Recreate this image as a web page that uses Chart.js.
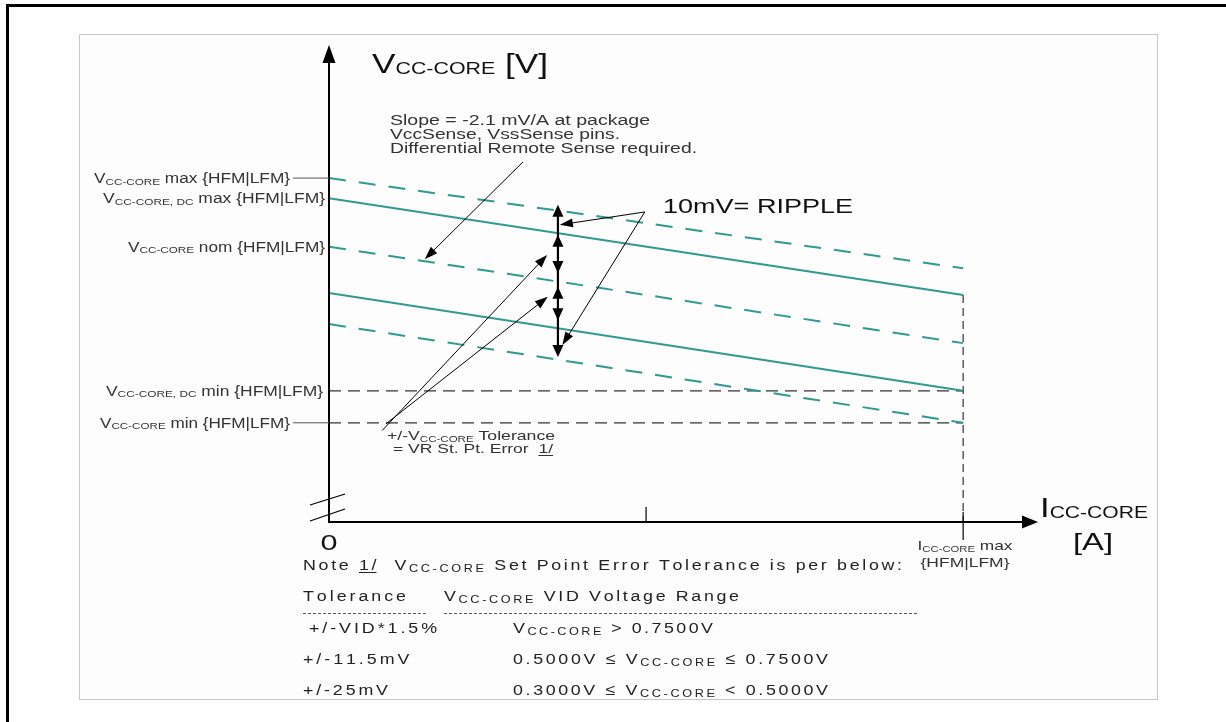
<!DOCTYPE html>
<html>
<head>
<meta charset="utf-8">
<script src="https://cdn.jsdelivr.net/npm/chart.js@4/dist/chart.umd.min.js"></script>
<style>
html,body{margin:0;padding:0;background:#fff;}
#wrap{position:relative;width:1226px;height:722px;}
</style>
</head>
<body>
<div id="wrap"><canvas id="c" width="1226" height="722"></canvas></div>
<script>
// ---- data (x: % of Icc-core max, y: relative voltage units) ----
const currentPct   = [0, 100];
const vMax         = [72.1, 53.2];   // Vcc-core max (dashed)
const vDcMax       = [67.9, 47.6];   // Vcc-core,dc max (solid)
const vNom         = [57.7, 37.5];   // Vcc-core nom (dashed)
const vDcMin       = [48.0, 27.5];   // Vcc-core,dc min (solid)
const vMin         = [41.5, 20.8];   // Vcc-core min (dashed)
const vDcMinLimit  = [27.5, 27.5];   // horizontal dc min
const vMinLimit    = [20.8, 20.8];   // horizontal min
const iccMaxX      = [100, 100];
const iccMaxY      = [47.6, 0];
const xAxisTicks   = [50, 100];
const arrowX       = 36.1;
const arrowSpan    = [66.5, 34.6];
const headsUp      = [66.5, 60.2, 49.3];
const headsDown    = [52.2, 42.3, 34.6];
const slopeLeader  = [30.6, 75.5, 15.1, 55.1];
const rippleLeaders = [[49.8, 65.0, 36.4, 62.3], [49.8, 65.0, 36.8, 37.1]];
const tolLeaders   = [[8.4, 19.2, 34.4, 56.0], [9.0, 20.6, 34.5, 47.2]];
const leftLabels   = [
  {sub:'CC-CORE', rest:' max {HFM|LFM}', v:72.1, right:290, w:196, leader:true},
  {sub:'CC-CORE, DC', rest:' max {HFM|LFM}', v:67.9, right:325, w:222, leader:false},
  {sub:'CC-CORE', rest:' nom {HFM|LFM}', v:57.7, right:325, w:197, leader:false},
  {sub:'CC-CORE, DC', rest:' min {HFM|LFM}', v:27.5, right:323, w:217, leader:false},
  {sub:'CC-CORE', rest:' min {HFM|LFM}', v:20.8, right:290, w:190, leader:true}
];

const TEAL = '#2f9a8f';
const FF = "'Liberation Sans', Arial, Helvetica, sans-serif";

function pts(xs, ys){ return xs.map((x,i)=>({x:x, y:ys[i]})); }

// rich text: segs = [[text,size,dy,underline]]
function rich(ctx, x, y, segs, o){
  o = o || {};
  ctx.save();
  ctx.fillStyle = o.color || '#222';
  ctx.strokeStyle = o.color || '#222';
  ctx.textBaseline = 'alphabetic';
  ctx.textAlign = 'left';
  const gs = o.gs || 1;
  let nat = 0, nchar = 0;
  const ws = segs.map(s=>{ ctx.font = s[1]+'px '+FF; const w = ctx.measureText(s[0]).width; nat += w; nchar += s[0].length; return w; });
  const W = o.w || nat;
  let x0 = x;
  if (o.align === 'right') x0 = x - W; else if (o.align === 'center') x0 = x - W/2;
  if (o.mode === 'space'){
    const extra = nchar>1 ? (W - nat*gs)/(nchar-1) : 0;
    let cx = x0;
    segs.forEach(s=>{
      ctx.font = s[1]+'px '+FF;
      const st = cx;
      for (const ch of s[0]){
        ctx.save();
        ctx.translate(cx, y + (s[2]||0));
        ctx.scale(gs, 1);
        ctx.fillText(ch, 0, 0);
        ctx.restore();
        cx += ctx.measureText(ch).width*gs + extra;
      }
      if (s[3]){ ctx.lineWidth=1; ctx.beginPath(); ctx.moveTo(st, y+2.5); ctx.lineTo(cx-extra, y+2.5); ctx.stroke(); }
    });
  } else {
    const sx = W / nat;
    ctx.translate(x0, y);
    ctx.scale(sx, 1);
    let cx = 0;
    segs.forEach((s,i)=>{
      ctx.font = s[1]+'px '+FF;
      ctx.fillText(s[0], cx, (s[2]||0));
      if (s[3]){ ctx.lineWidth=1; ctx.beginPath(); ctx.moveTo(cx, 2.5); ctx.lineTo(cx+ws[i], 2.5); ctx.stroke(); }
      cx += ws[i];
    });
  }
  ctx.restore();
}

function head(ctx, tx, ty, fx, fy, len, hw){
  const a = Math.atan2(ty-fy, tx-fx);
  ctx.beginPath();
  ctx.moveTo(tx, ty);
  ctx.lineTo(tx - len*Math.cos(a) + hw*Math.sin(a), ty - len*Math.sin(a) - hw*Math.cos(a));
  ctx.lineTo(tx - len*Math.cos(a) - hw*Math.sin(a), ty - len*Math.sin(a) + hw*Math.cos(a));
  ctx.closePath();
  ctx.fill();
}

const deco = {
  id:'deco',
  beforeDraw(chart){
    const ctx = chart.ctx;
    ctx.save();
    ctx.fillStyle = '#fff';
    ctx.fillRect(0,0,chart.width,chart.height);
    ctx.fillStyle = '#000';
    ctx.fillRect(6, 4, 1220, 3);
    ctx.fillRect(6, 4, 3, 718);
    ctx.fillStyle = '#fdfdfd';
    ctx.fillRect(79.5, 34.5, 1078, 665);
    ctx.strokeStyle = '#c8c8c8';
    ctx.lineWidth = 1;
    ctx.strokeRect(79.5, 34.5, 1078, 665);
    ctx.restore();
  },
  afterDatasetsDraw(chart){
    const ctx = chart.ctx;
    const xs = chart.scales.x, ys = chart.scales.y;
    const X = v=>xs.getPixelForValue(v), Y = v=>ys.getPixelForValue(v);
    const ox = X(0), oy = Y(0);
    ctx.save();
    ctx.strokeStyle = '#000'; ctx.fillStyle = '#000';
    ctx.lineWidth = 2;
    ctx.beginPath(); ctx.moveTo(ox, oy+1); ctx.lineTo(ox, chart.chartArea.top+14); ctx.stroke();
    head(ctx, ox, chart.chartArea.top, ox, oy, 18, 6.5);
    ctx.beginPath(); ctx.moveTo(ox-1, oy); ctx.lineTo(chart.chartArea.right-12, oy); ctx.stroke();
    head(ctx, chart.chartArea.right, oy, ox, oy, 16, 6.5);
    ctx.lineWidth = 1.2;
    ctx.beginPath(); ctx.moveTo(X(xAxisTicks[0]), oy-15); ctx.lineTo(X(xAxisTicks[0]), oy); ctx.stroke();
    ctx.beginPath(); ctx.moveTo(X(xAxisTicks[1]), oy-10); ctx.lineTo(X(xAxisTicks[1]), oy+18); ctx.stroke();
    ctx.lineWidth = 1.3;
    ctx.beginPath(); ctx.moveTo(ox-19, oy-17); ctx.lineTo(ox+16, oy-28); ctx.stroke();
    ctx.beginPath(); ctx.moveTo(ox-19, oy-1); ctx.lineTo(ox+16, oy-13); ctx.stroke();

    ctx.strokeStyle = '#555'; ctx.lineWidth = 1;
    leftLabels.forEach(l=>{
      if (l.leader){ ctx.beginPath(); ctx.moveTo(l.right+3, Y(l.v)); ctx.lineTo(ox, Y(l.v)); ctx.stroke(); }
    });

    ctx.strokeStyle = '#000'; ctx.fillStyle = '#000'; ctx.lineWidth = 2.2;
    const ax = X(arrowX);
    ctx.beginPath(); ctx.moveTo(ax, Y(arrowSpan[0])+6); ctx.lineTo(ax, Y(arrowSpan[1])-6); ctx.stroke();
    headsUp.forEach(v=>head(ctx, ax, Y(v), ax, Y(v)+10, 12, 5.5));
    headsDown.forEach(v=>head(ctx, ax, Y(v), ax, Y(v)-10, 12, 5.5));

    ctx.lineWidth = 1;
    const leader = (a)=>{
      const x1=X(a[0]), y1=Y(a[1]), x2=X(a[2]), y2=Y(a[3]);
      const ang = Math.atan2(y2-y1, x2-x1);
      ctx.beginPath(); ctx.moveTo(x1,y1); ctx.lineTo(x2-8*Math.cos(ang), y2-8*Math.sin(ang)); ctx.stroke();
      head(ctx, x2, y2, x1, y1, 13, 4.5);
    };
    leader(slopeLeader);
    rippleLeaders.forEach(leader);
    tolLeaders.forEach(leader);
    ctx.restore();

    rich(ctx, 372, 73, [['V',28],['CC-CORE',17,1],[' [V]',28]], {w:176, color:'#111'});
    rich(ctx, 1040, 517, [['I',28],['CC-CORE',17,1]], {w:108, color:'#111'});
    rich(ctx, 1093, 550, [['[A]',24]], {w:40, align:'center', color:'#111'});
    rich(ctx, ox, 550, [['0',22]], {w:17, align:'center', color:'#111'});
    leftLabels.forEach(l=>{
      rich(ctx, l.right, Y(l.v)+5, [['V',14],[l.sub,9.5,1.5],[l.rest,14]], {w:l.w, align:'right', color:'#333'});
    });
    rich(ctx, 390, 125, [['Slope = -2.1 mV/A at package',14]], {w:260, color:'#333'});
    rich(ctx, 390, 139, [['VccSense, VssSense pins.',14]], {w:230, color:'#333'});
    rich(ctx, 390, 153, [['Differential Remote Sense required.',14]], {w:307, color:'#333'});
    rich(ctx, 663, 213, [['10mV= RIPPLE',21]], {w:190, color:'#111'});
    rich(ctx, 387, 440, [['+/-V',13],['CC-CORE',8.5,1.5],[' Tolerance',13]], {w:168, color:'#333'});
    rich(ctx, 393, 453, [['= VR St. Pt. Error  ',13],['1/',13,0,true]], {w:160, color:'#333'});
    rich(ctx, 965, 550, [['I',13],['CC-CORE',8.5,1.5],[' max',13]], {w:95, align:'center', color:'#333'});
    rich(ctx, 965, 567, [['{HFM|LFM}',13]], {w:89, align:'center', color:'#333'});
    const T = {mode:'space', color:'#222', gs:1.15};
    const F = 15.5, S = 11;
    rich(ctx, 303, 570, [['Note ',F],['1/',F,0,true],['  V',F],['CC-CORE',S,2],[' Set Point Error Tolerance is per below:',F]], Object.assign({w:597}, T));
    rich(ctx, 303, 601, [['Tolerance',F]], Object.assign({w:101}, T));
    rich(ctx, 444, 601, [['V',F],['CC-CORE',S,2],[' VID Voltage Range',F]], Object.assign({w:294}, T));
    rich(ctx, 309, 633, [['+/-VID*1.5%',F]], Object.assign({w:128}, T));
    rich(ctx, 513, 633, [['V',F],['CC-CORE',S,2],[' > 0.7500V',F]], Object.assign({w:200}, T));
    rich(ctx, 303, 664, [['+/-11.5mV',F]], Object.assign({w:105}, T));
    rich(ctx, 513, 664, [['0.5000V \u2264 V',F],['CC-CORE',S,2],[' \u2264 0.7500V',F]], Object.assign({w:315}, T));
    rich(ctx, 303, 695, [['+/-25mV',F]], Object.assign({w:85}, T));
    rich(ctx, 513, 695, [['0.3000V \u2264 V',F],['CC-CORE',S,2],[' < 0.5000V',F]], Object.assign({w:315}, T));
    ctx.save();
    ctx.strokeStyle = '#555'; ctx.lineWidth = 1; ctx.setLineDash([3,2]);
    ctx.beginPath(); ctx.moveTo(303, 613.5); ctx.lineTo(427, 613.5); ctx.stroke();
    ctx.beginPath(); ctx.moveTo(444, 613.5); ctx.lineTo(917, 613.5); ctx.stroke();
    ctx.restore();
  }
};

const greenDash = [17, 13];
new Chart(document.getElementById('c'), {
  type: 'line',
  data: {
    datasets: [
      {label:'Vcc-core max', data: pts(currentPct, vMax), borderColor: TEAL, borderWidth: 2, borderDash: greenDash},
      {label:'Vcc-core,dc max', data: pts(currentPct, vDcMax), borderColor: TEAL, borderWidth: 2},
      {label:'Vcc-core nom', data: pts(currentPct, vNom), borderColor: TEAL, borderWidth: 2, borderDash: greenDash},
      {label:'Vcc-core,dc min', data: pts(currentPct, vDcMin), borderColor: TEAL, borderWidth: 2},
      {label:'Vcc-core min', data: pts(currentPct, vMin), borderColor: TEAL, borderWidth: 2, borderDash: greenDash},
      {label:'dc min limit', data: pts(currentPct, vDcMinLimit), borderColor: '#333', borderWidth: 1.2, borderDash: [12, 7]},
      {label:'min limit', data: pts(currentPct, vMinLimit), borderColor: '#333', borderWidth: 1.2, borderDash: [12, 7]},
      {label:'Icc max', data: pts(iccMaxX, iccMaxY), borderColor: '#333', borderWidth: 1.2, borderDash: [8, 5]}
    ]
  },
  options: {
    responsive: false,
    animation: false,
    devicePixelRatio: 1,
    layout: {padding: {left: 329, right: 188, top: 45, bottom: 200}},
    elements: {point: {radius: 0}, line: {tension: 0}},
    plugins: {legend: {display: false}, tooltip: {enabled: false}},
    scales: {
      x: {type: 'linear', display: false, min: 0, max: 111.8},
      y: {type: 'linear', display: false, min: 0, max: 100}
    }
  },
  plugins: [deco]
});
</script>
</body>
</html>
